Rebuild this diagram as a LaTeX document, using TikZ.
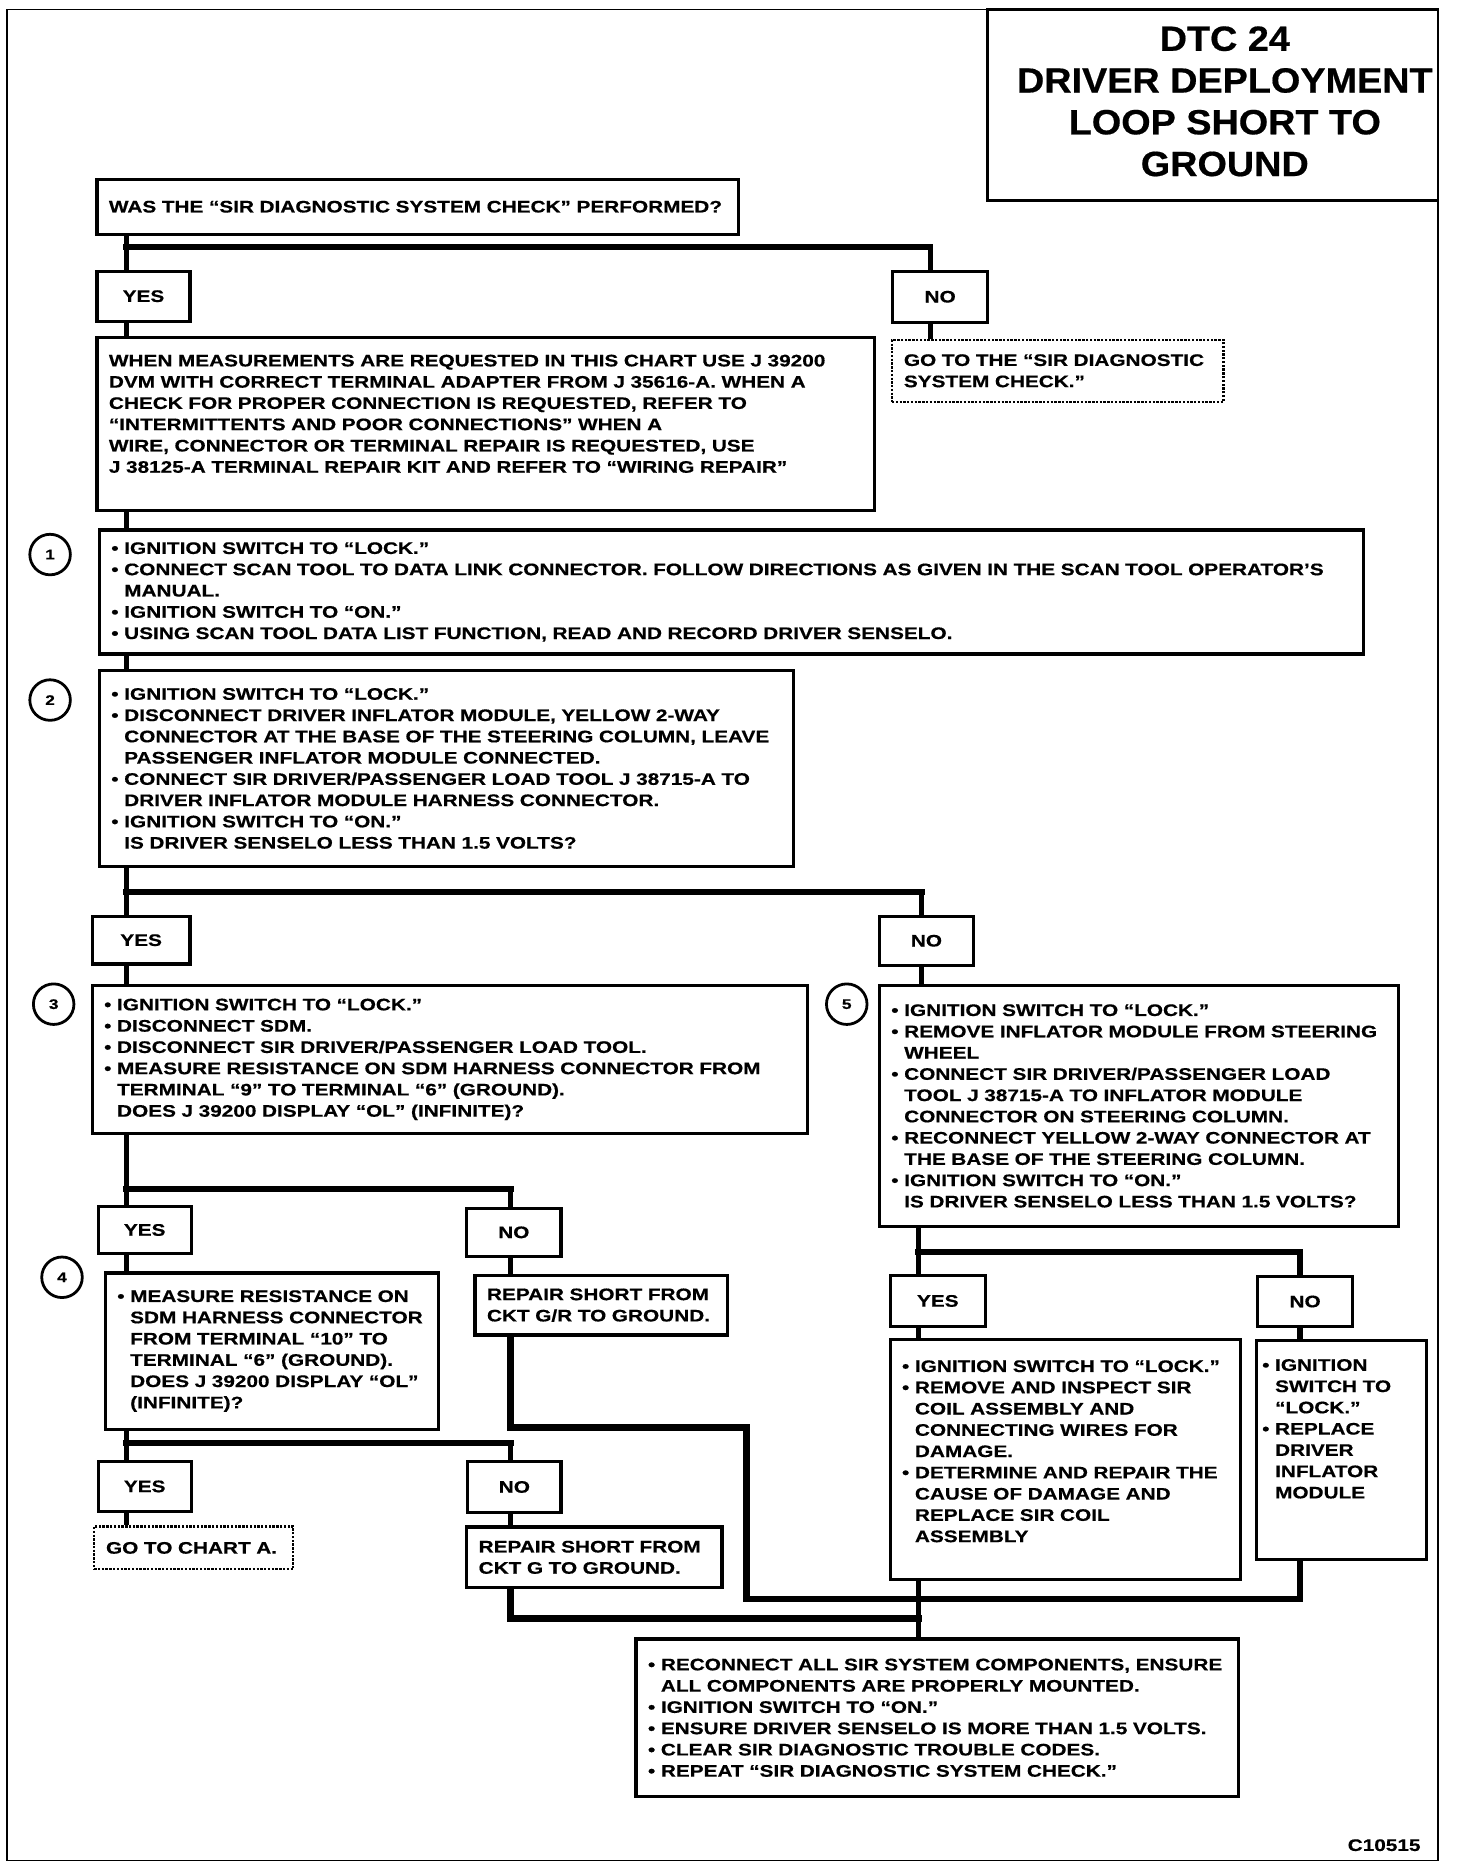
\documentclass[tikz,border=0pt]{standalone}
\usepackage{fontspec}
\setmainfont{Liberation Sans}[FakeStretch=1.245,FakeBold=0.5]
\newfontfamily\titlefont{Liberation Sans}[FakeStretch=1.08,FakeBold=0.5]
\newcommand{\bul}{\makebox[6.5pt][l]{\textbullet}}
\newcommand{\ind}{\hspace*{6.5pt}}

\begin{document}
\begin{tikzpicture}[x=0.6pt,y=-0.6pt,
	font=\bfseries\fontsize{8.4}{10.7}\selectfont,
	box/.style 2 args={draw,line width=1.6pt,anchor=north west,inner xsep=6pt,inner ysep=0pt,
		align=left,text width=#1*0.6pt-12pt,minimum height=#2*0.6pt},
	dbox/.style 2 args={box={#1}{#2},line width=1.1pt,dash pattern=on 1.2pt off 0.7pt},
	yn/.style 2 args={draw,line width=1.6pt,anchor=north west,inner sep=0pt,
		minimum width=#1*0.6pt,minimum height=#2*0.6pt},
	num/.style={draw,circle,line width=1.4pt,minimum size=34*0.6pt,inner sep=0pt,
		font=\bfseries\fontsize{7}{7}\selectfont},
	conn/.style={line width=2.6pt},
	bus/.style={line width=3.2pt,line cap=rect}]
	\useasboundingbox (0,0) rectangle (1221,1568);

	% frame and title
	\draw[line width=0.9pt] (6,8) rectangle (1206,1560);
	\draw[line width=1.2pt] (828,8) rectangle (1206,168);
	\node[font=\titlefont\bfseries\fontsize{17.6}{21}\selectfont,align=center] (title) at (1027,85)
		{DTC 24\\DRIVER DEPLOYMENT\\LOOP SHORT TO\\GROUND};

	% first question
	\node[box={538}{46}] (q0) at (80,149) {WAS THE “SIR DIAGNOSTIC SYSTEM CHECK” PERFORMED?};
	\node[yn={78}{42}] (yesA) at (80,226) {YES};
	\node[yn={80}{43}] (noA) at (747,226) {NO};
	\node[box={652}{145}] (meas) at (80,282) {WHEN MEASUREMENTS ARE REQUESTED IN THIS CHART USE J 39200\\
		DVM WITH CORRECT TERMINAL ADAPTER FROM J 35616-A. WHEN A\\
		CHECK FOR PROPER CONNECTION IS REQUESTED, REFER TO\\
		“INTERMITTENTS AND POOR CONNECTIONS” WHEN A\\
		WIRE, CONNECTOR OR TERMINAL REPAIR IS REQUESTED, USE\\
		J 38125-A TERMINAL REPAIR KIT AND REFER TO “WIRING REPAIR”\\ \mbox{}};
	\node[dbox={278}{52}] (goto) at (747,284) {GO TO THE “SIR DIAGNOSTIC\\SYSTEM CHECK.”};

	% steps 1 and 2
	\node[num] (c1) at (42,465) {1};
	\node[box={1060}{104}] (s1) at (82,443) {\bul IGNITION SWITCH TO “LOCK.”\\
		\bul CONNECT SCAN TOOL TO DATA LINK CONNECTOR. FOLLOW DIRECTIONS AS GIVEN IN THE SCAN TOOL OPERATOR'S\\
		\ind MANUAL.\\
		\bul IGNITION SWITCH TO “ON.”\\
		\bul USING SCAN TOOL DATA LIST FUNCTION, READ AND RECORD DRIVER SENSELO.};
	\node[num] (c2) at (42,587) {2};
	\node[box={582}{164}] (s2) at (82,561) {\bul IGNITION SWITCH TO “LOCK.”\\
		\bul DISCONNECT DRIVER INFLATOR MODULE, YELLOW 2-WAY\\
		\ind CONNECTOR AT THE BASE OF THE STEERING COLUMN, LEAVE\\
		\ind PASSENGER INFLATOR MODULE CONNECTED.\\
		\bul CONNECT SIR DRIVER/PASSENGER LOAD TOOL J 38715-A TO\\
		\ind DRIVER INFLATOR MODULE HARNESS CONNECTOR.\\
		\bul IGNITION SWITCH TO “ON.”\\
		\ind IS DRIVER SENSELO LESS THAN 1.5 VOLTS?};
	\node[yn={82}{40}] (yesB) at (76,767) {YES};
	\node[yn={79}{41}] (noB) at (736,767) {NO};

	% left branch
	\node[num] (c3) at (45,842) {3};
	\node[box={600}{124}] (s3) at (76,825) {\bul IGNITION SWITCH TO “LOCK.”\\
		\bul DISCONNECT SDM.\\
		\bul DISCONNECT SIR DRIVER/PASSENGER LOAD TOOL.\\
		\bul MEASURE RESISTANCE ON SDM HARNESS CONNECTOR FROM\\
		\ind TERMINAL “9” TO TERMINAL “6” (GROUND).\\
		\ind DOES J 39200 DISPLAY “OL” (INFINITE)?};
	\node[yn={78}{40}] (yesC) at (81,1010) {YES};
	\node[yn={79}{40}] (noC) at (390,1012) {NO};
	\node[num] (c4) at (52,1071) {4};
	\node[box={279}{131}] (s4) at (87,1066) {\bul MEASURE RESISTANCE ON\\
		\ind SDM HARNESS CONNECTOR\\
		\ind FROM TERMINAL “10” TO\\
		\ind TERMINAL “6” (GROUND).\\
		\ind DOES J 39200 DISPLAY “OL”\\
		\ind (INFINITE)?};
	\node[box={212}{50}] (gr) at (397,1068) {REPAIR SHORT FROM\\CKT G/R TO GROUND.};
	\node[yn={78}{42}] (yesD) at (81,1224) {YES};
	\node[yn={78}{43}] (noD) at (391,1224) {NO};
	\node[dbox={167}{36}] (charta) at (78,1279) {GO TO CHART A.};
	\node[box={214}{51}] (ckg) at (390,1279) {REPAIR SHORT FROM\\CKT G TO GROUND.};

	% right branch
	\node[num] (c5) at (710,842) {5};
	\node[box={435}{202}] (s5) at (736,825) {\bul IGNITION SWITCH TO “LOCK.”\\
		\bul REMOVE INFLATOR MODULE FROM STEERING\\
		\ind WHEEL\\
		\bul CONNECT SIR DRIVER/PASSENGER LOAD\\
		\ind TOOL J 38715-A TO INFLATOR MODULE\\
		\ind CONNECTOR ON STEERING COLUMN.\\
		\bul RECONNECT YELLOW 2-WAY CONNECTOR AT\\
		\ind THE BASE OF THE STEERING COLUMN.\\
		\bul IGNITION SWITCH TO “ON.”\\
		\ind IS DRIVER SENSELO LESS THAN 1.5 VOLTS?};
	\node[yn={80}{43}] (yesE) at (745,1068) {YES};
	\node[yn={80}{42}] (noE) at (1053,1069) {NO};
	\node[box={294}{201}] (s6) at (745,1122) {\bul IGNITION SWITCH TO “LOCK.”\\
		\bul REMOVE AND INSPECT SIR\\
		\ind COIL ASSEMBLY AND\\
		\ind CONNECTING WIRES FOR\\
		\ind DAMAGE.\\
		\bul DETERMINE AND REPAIR THE\\
		\ind CAUSE OF DAMAGE AND\\
		\ind REPLACE SIR COIL\\
		\ind ASSEMBLY\\[-2.3pt] \mbox{}};
	\node[box={143}{183},inner xsep=3pt,text width=143*0.6pt-6pt] (s7) at (1052,1123) {\bul IGNITION\\
		\ind SWITCH TO\\
		\ind “LOCK.”\\
		\bul REPLACE\\
		\ind DRIVER\\
		\ind INFLATOR\\
		\ind MODULE\\ \mbox{}\\ \mbox{}};

	% last step
	\node[box={505}{132}] (fin) at (532,1373) {\bul RECONNECT ALL SIR SYSTEM COMPONENTS, ENSURE\\
		\ind ALL COMPONENTS ARE PROPERLY MOUNTED.\\
		\bul IGNITION SWITCH TO “ON.”\\
		\bul ENSURE DRIVER SENSELO IS MORE THAN 1.5 VOLTS.\\
		\bul CLEAR SIR DIAGNOSTIC TROUBLE CODES.\\
		\bul REPEAT “SIR DIAGNOSTIC SYSTEM CHECK.”};
	\node[anchor=base east] (code) at (1197,1552) {C10515};

	% connectors
	\coordinate (j1) at (106,207);
	\coordinate (j1r) at (780,207);
	\draw[conn] (q0.south -| j1) -- (yesA.north -| j1);
	\draw[bus] (j1) -- (j1r);
	\draw[conn] (j1r) -- (noA.north -| j1r);
	\draw[conn] (yesA.south -| j1) -- (meas.north -| j1);
	\draw[conn] (noA.south -| j1r) -- (goto.north -| j1r);
	\draw[conn] (meas.south -| j1) -- (s1.north -| j1);
	\draw[conn] (s1.south -| j1) -- (s2.north -| j1);

	\coordinate (j2) at (106,748);
	\coordinate (j2r) at (773,748);
	\draw[conn] (s2.south -| j2) -- (yesB.north -| j2);
	\draw[bus] (j2) -- (j2r);
	\draw[conn] (j2r) -- (noB.north -| j2r);
	\draw[conn] (yesB.south -| j2) -- (s3.north -| j2);
	\draw[conn] (noB.south -| j2r) -- (s5.north -| j2r);

	\coordinate (j3) at (106,997);
	\coordinate (j3r) at (428,997);
	\draw[conn] (s3.south -| j3) -- (yesC.north -| j3);
	\draw[bus] (j3) -- (j3r);
	\draw[conn] (j3r) -- (noC.north -| j3r);
	\draw[conn] (yesC.south -| j3) -- (s4.north -| j3);
	\draw[conn] (noC.south -| j3r) -- (gr.north -| j3r);

	\coordinate (j4) at (106,1210);
	\coordinate (j4r) at (428,1210);
	\draw[conn] (s4.south -| j4) -- (yesD.north -| j4);
	\draw[bus] (j4) -- (j4r);
	\draw[conn] (j4r) -- (noD.north -| j4r);
	\draw[conn] (yesD.south -| j4) -- (charta.north -| j4);
	\draw[conn] (noD.south -| j4r) -- (ckg.north -| j4r);

	\coordinate (j5) at (770,1050);
	\coordinate (j5r) at (1090,1050);
	\draw[conn] (s5.south -| j5) -- (yesE.north -| j5);
	\draw[bus] (j5) -- (j5r);
	\draw[conn] (j5r) -- (noE.north -| j5r);
	\draw[conn] (yesE.south -| j5) -- (s6.north -| j5);
	\draw[conn] (noE.south -| j5r) -- (s7.north -| j5r);

	\coordinate (m1) at (770,1341);
	\coordinate (m2) at (770,1357);
	\draw[bus] (gr.south -| j3r) |- (626,1197) |- (m1);
	\draw[bus] (s7.south -| j5r) |- (m1);
	\draw[bus] (ckg.south -| j4r) |- (m2);
	\draw[conn] (s6.south -| j5) -- (fin.north -| j5);
\end{tikzpicture}
\end{document}
